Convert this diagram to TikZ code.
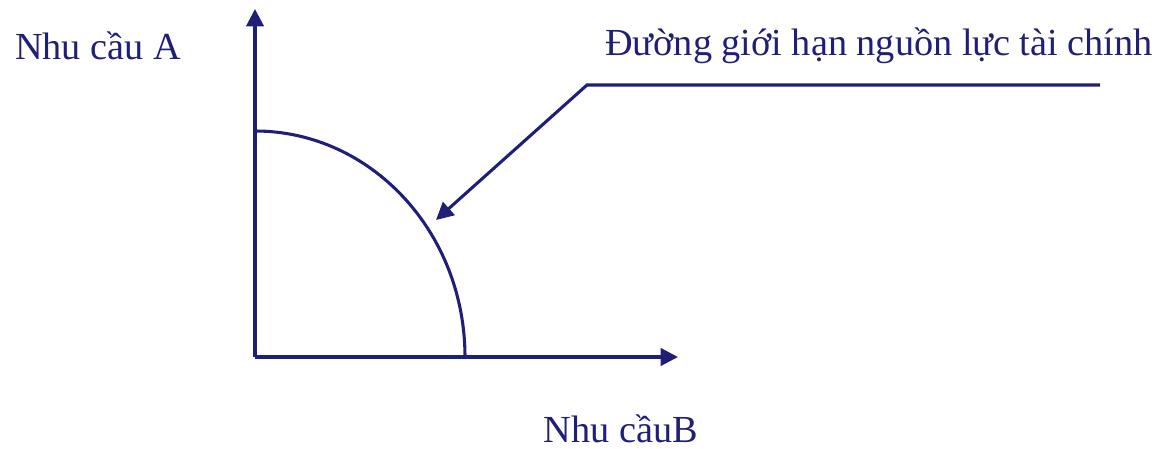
\documentclass[tikz,border=0pt]{standalone}
\usepackage{fontspec}
\setmainfont{Liberation Serif}
\usetikzlibrary{arrows.meta,positioning,calc}
\definecolor{navy}{HTML}{1F1F78}

\begin{document}
\begin{tikzpicture}[x=0.75pt,y=-0.75pt,
    axis/.style={navy,line width=2.3pt,-{Triangle[length=13pt,width=13pt]}},
    curve/.style={navy,line width=2.3pt},
    lbl/.style={navy,font=\fontsize{28.7}{34}\selectfont,inner sep=0pt}]
  \useasboundingbox (0,0) rectangle (1156,449);
  % Axes
  \coordinate (O) at (255,357);
  \coordinate (ytip) at (255,9);
  \coordinate (xtip) at (678,357);
  \draw[axis] (O) -- (ytip);
  \draw[axis] (O) -- (xtip);
  \node[lbl] (labA) at (98,46) {Nhu cầu A};
  \node[lbl] (labB) at (621,429) {Nhu cầuB};
  % Budget curve
  \coordinate (top) at (255,131);
  \draw[curve] (top) arc[start angle=90,end angle=0,x radius=210,y radius=-226];
  % Leader line
  \node[lbl,anchor=east] (labC) at (1153,46) {Đường giới hạn nguồn lực tài chính};
  \coordinate (lstart) at (1100,85);
  \coordinate (lbend) at (587,85);
  \coordinate (ltip) at (436,220);
  \draw[axis] (lstart) -- (lbend) -- (ltip);
\end{tikzpicture}
\end{document}
